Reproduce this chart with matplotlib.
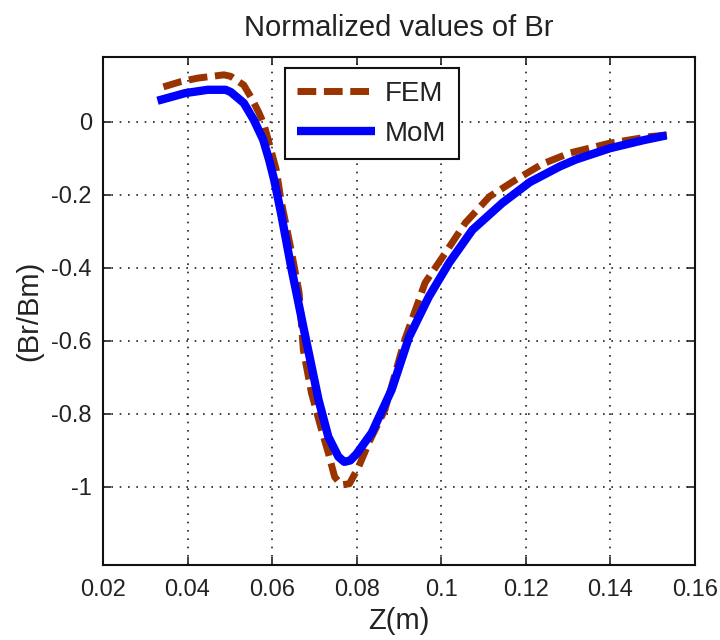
import matplotlib
matplotlib.use("Agg")
import matplotlib.pyplot as plt

plt.rcParams['font.family'] = ['Liberation Sans', 'DejaVu Sans']

# MoM (solid blue)
mom_z = [0.0329, 0.0395, 0.0448, 0.0490, 0.0502, 0.0533, 0.0557, 0.0579, 0.0593,
         0.0605, 0.0621, 0.0645, 0.0674, 0.0710, 0.0733, 0.0757, 0.0771, 0.0785,
         0.0800, 0.0836, 0.0883, 0.0924, 0.0971, 0.1019, 0.1074, 0.1145, 0.1210,
         0.1281, 0.1319, 0.1400, 0.1479, 0.1533]
mom_br = [0.058, 0.079, 0.088, 0.088, 0.082, 0.052, 0.005, -0.049, -0.104,
          -0.159, -0.249, -0.397, -0.562, -0.762, -0.863, -0.918, -0.932, -0.928,
          -0.910, -0.852, -0.734, -0.590, -0.479, -0.386, -0.296, -0.222, -0.165,
          -0.122, -0.103, -0.072, -0.050, -0.037]

# FEM (dashed brown)
fem_z = [0.0343, 0.0383, 0.0424, 0.0486, 0.0502, 0.0533, 0.0550, 0.0569, 0.0581,
         0.0593, 0.0610, 0.0621, 0.0645, 0.0664, 0.0674, 0.0693, 0.0717, 0.0733,
         0.0748, 0.0764, 0.0783, 0.0805, 0.0829, 0.0867, 0.0914, 0.0962, 0.1010,
         0.1057, 0.1114, 0.1176, 0.1240, 0.1305, 0.1400, 0.1495, 0.1538]
fem_br = [0.096, 0.110, 0.120, 0.129, 0.125, 0.101, 0.068, 0.025, -0.008,
          -0.058, -0.132, -0.214, -0.351, -0.468, -0.625, -0.742, -0.844, -0.907,
          -0.973, -0.995, -0.992, -0.945, -0.879, -0.789, -0.597, -0.441, -0.359,
          -0.277, -0.205, -0.159, -0.115, -0.085, -0.058, -0.040, -0.036]

xticks = [0.02, 0.04, 0.06, 0.08, 0.1, 0.12, 0.14, 0.16]
xticklabels = ['0.02', '0.04', '0.06', '0.08', '0.1', '0.12', '0.14', '0.16']
yticks = [0, -0.2, -0.4, -0.6, -0.8, -1]
yticklabels = ['0', '-0.2', '-0.4', '-0.6', '-0.8', '-1']

fig = plt.figure(figsize=(7.2, 6.4), dpi=100)
ax = fig.add_axes([0.143, 0.117, 0.822, 0.794])

ax.plot(fem_z, fem_br, color='#993300', lw=5, ls=(0, (2.7, 1.1)), label='FEM',
        dash_capstyle='butt', solid_joinstyle='round', dash_joinstyle='round')
ax.plot(mom_z, mom_br, color='#0000FF', lw=6, label='MoM',
        solid_joinstyle='round', solid_capstyle='butt')

ax.set_xlim(0.02, 0.16)
ax.set_ylim(-1.215, 0.178)
ax.set_xticks(xticks)
ax.set_xticklabels(xticklabels)
ax.set_yticks(yticks)
ax.set_yticklabels(yticklabels)
ax.tick_params(direction='in', length=6, width=1.2, top=True, right=True,
               labelsize=17, pad=8, colors='#222222')
ax.tick_params(axis='x', pad=10)
for s in ax.spines.values():
    s.set_linewidth(1.5)
    s.set_color('#111111')
ax.grid(True, ls=(0, (1, 4)), color='#222222', lw=1.2)

ax.set_title('Normalized values of Br', fontsize=21, pad=15, color='#222222')
ax.set_xlabel('Z(m)', fontsize=21, labelpad=4, color='#222222')
ax.set_ylabel('(Br/Bm)', fontsize=21, labelpad=6, color='#222222')

leg = ax.legend(loc='upper left', bbox_to_anchor=(0.307, 0.978), fontsize=20,
                fancybox=False, framealpha=1, edgecolor='#111111',
                handlelength=2.8, borderpad=0.45, labelspacing=0.5,
                handletextpad=0.35, borderaxespad=0)
leg.get_frame().set_linewidth(1.5)
for t in leg.get_texts():
    t.set_color('#222222')

fig.savefig('out.png', dpi=100)
